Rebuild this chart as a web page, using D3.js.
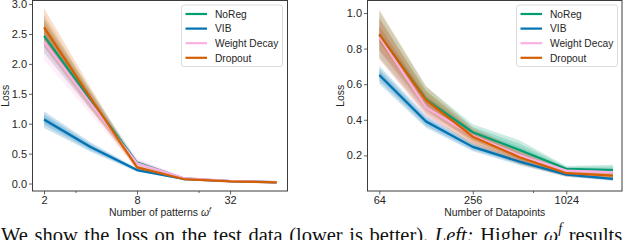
<!DOCTYPE html>
<html>
<head>
<meta charset="utf-8">
<script src="https://cdn.jsdelivr.net/npm/d3@7"></script>
<style>
  body { margin: 0; background: #fff; }
  svg { display: block; font-family: "Liberation Sans", Arial, sans-serif; }
</style>
</head>
<body>
<svg id="chart" width="640" height="240"></svg>
<script>
// ---- data ----
var seriesNames = ['NoReg', 'VIB', 'Weight Decay', 'Dropout'];
var seriesColors = ['#029e73', '#0173b2', '#fbafe4', '#d55e00'];

// left panel: number of patterns
var patterns = [2, 4, 8, 16, 32, 64];
var patternTicks = [2, 8, 32];
var patternMinor = [3.2, 20];
var lossTicksLeft = [0, 0.5, 1, 1.5, 2, 2.5, 3];
var noRegPat   = [2.47, 1.40, 0.35, 0.085, 0.04, 0.025];
var vibPat     = [1.07, 0.61, 0.225, 0.075, 0.04, 0.02];
var wdPat      = [2.37, 1.34, 0.34, 0.09, 0.045, 0.025];
var dropoutPat = [2.61, 1.43, 0.27, 0.075, 0.035, 0.02];
var noRegPatSd   = [0.28, 0.16, 0.04, 0.015, 0.01, 0.005];
var vibPatSd     = [0.14, 0.08, 0.03, 0.01, 0.006, 0.005];
var wdPatSd      = [0.30, 0.18, 0.09, 0.02, 0.01, 0.005];
var dropoutPatSd = [0.32, 0.18, 0.04, 0.012, 0.006, 0.005];

// right panel: number of datapoints
var datapoints = [64, 128, 256, 512, 1024, 2048];
var datapointTicks = [64, 256, 1024];
var datapointMinor = [625];
var lossTicksRight = [0.2, 0.4, 0.6, 0.8, 1.0];
var noRegDat   = [0.88, 0.515, 0.33, 0.23, 0.125, 0.118];
var vibDat     = [0.652, 0.39, 0.248, 0.165, 0.092, 0.068];
var wdDat      = [0.865, 0.47, 0.31, 0.20, 0.115, 0.105];
var dropoutDat = [0.88, 0.51, 0.305, 0.19, 0.10, 0.086];
var noRegDatSd   = [0.13, 0.07, 0.045, 0.055, 0.015, 0.03];
var vibDatSd     = [0.05, 0.035, 0.025, 0.02, 0.012, 0.012];
var wdDatSd      = [0.12, 0.06, 0.04, 0.03, 0.015, 0.02];
var dropoutDatSd = [0.14, 0.08, 0.05, 0.04, 0.02, 0.022];

var svg = d3.select('#chart');
var textColor = '#262626';
var spineColor = '#3c3c3c';

function drawPanel(cfg) {
  var x = d3.scaleLog().base(2).domain(cfg.xDomain).range(cfg.xRange);
  var y = d3.scaleLinear().domain(cfg.yDomain).range([cfg.bottom, cfg.top]);
  var g = svg.append('g');

  var clipId = 'clip' + cfg.id;
  g.append('clipPath').attr('id', clipId)
    .append('rect')
    .attr('x', cfg.left).attr('y', cfg.top)
    .attr('width', cfg.right - cfg.left).attr('height', cfg.bottom - cfg.top);

  var plot = g.append('g').attr('clip-path', 'url(#' + clipId + ')');

  // bands first (all below lines), a few nested layers for the soft edge
  var layers = [1, 0.66, 0.33];
  cfg.values.forEach(function(vals, si) {
    var sd = cfg.sds[si];
    layers.forEach(function(k) {
      var area = d3.area()
        .x(function(d, i) { return x(cfg.xs[i]); })
        .y0(function(d, i) { return y(d - k * sd[i]); })
        .y1(function(d, i) { return y(d + k * sd[i]); });
      plot.append('path')
        .datum(vals)
        .attr('d', area)
        .attr('fill', seriesColors[si])
        .attr('fill-opacity', 0.2);
    });
  });

  var line = d3.line()
    .x(function(d, i) { return x(cfg.xs[i]); })
    .y(function(d) { return y(d); });
  cfg.values.forEach(function(vals, si) {
    plot.append('path')
      .datum(vals)
      .attr('d', line)
      .attr('fill', 'none')
      .attr('stroke', seriesColors[si])
      .attr('stroke-width', 2.2)
      .attr('stroke-linejoin', 'round');
  });

  // axes
  var xAxis = g.append('g')
    .attr('transform', 'translate(0,' + cfg.bottom + ')')
    .call(d3.axisBottom(x).tickValues(cfg.xTicks).tickFormat(d3.format('d'))
      .tickSize(3.5).tickPadding(2));
  var xMinor = g.append('g')
    .attr('transform', 'translate(0,' + cfg.bottom + ')')
    .call(d3.axisBottom(x).tickValues(cfg.xMinor).tickFormat('').tickSize(2));
  var yAxis = g.append('g')
    .attr('transform', 'translate(' + cfg.left + ',0)')
    .call(d3.axisLeft(y).tickValues(cfg.yTicks).tickFormat(d3.format('.1f'))
      .tickSize(3.5).tickPadding(2));

  [xAxis, xMinor, yAxis].forEach(function(a) {
    a.select('.domain').remove();
    a.selectAll('line').attr('stroke', spineColor).attr('stroke-width', 0.8);
    a.selectAll('text').attr('fill', textColor).style('font-size', '11px')
      .style('font-family', '"Liberation Sans", Arial, sans-serif');
  });

  // frame
  g.append('rect')
    .attr('x', cfg.left).attr('y', cfg.top)
    .attr('width', cfg.right - cfg.left).attr('height', cfg.bottom - cfg.top)
    .attr('fill', 'none').attr('stroke', spineColor).attr('stroke-width', 1);

  // axis labels
  var xl = g.append('text')
    .attr('x', (cfg.left + cfg.right) / 2).attr('y', 216)
    .attr('text-anchor', 'middle')
    .attr('fill', textColor).style('font-size', '10.4px')
    .text(cfg.xLabel);
  if (cfg.xLabelSup) {
    xl.append('tspan').style('font-style', 'italic').text(' \u03C9');
    xl.append('tspan').attr('dy', -4).style('font-size', '7px')
      .style('font-style', 'italic').text(cfg.xLabelSup);
  }
  g.append('text')
    .attr('transform', 'translate(' + cfg.yLabelX + ',' + ((cfg.top + cfg.bottom) / 2) + ') rotate(-90)')
    .attr('text-anchor', 'middle')
    .attr('fill', textColor).style('font-size', '10.4px')
    .text('Loss');

  // legend
  var lg = g.append('g').attr('transform', 'translate(' + cfg.legendX + ',5)');
  lg.append('rect')
    .attr('width', 101).attr('height', 61.5)
    .attr('rx', 2.5)
    .attr('fill', '#fff').attr('fill-opacity', 0.85)
    .attr('stroke', '#d4d4d4').attr('stroke-width', 0.8);
  seriesNames.forEach(function(name, i) {
    var yy = 9 + i * 14.6;
    lg.append('line')
      .attr('x1', 4).attr('x2', 25.5).attr('y1', yy).attr('y2', yy)
      .attr('stroke', seriesColors[i]).attr('stroke-width', 2.2);
    lg.append('text')
      .attr('x', 33.5).attr('y', yy + 3.7)
      .attr('fill', textColor).style('font-size', '10.2px')
      .text(name);
  });
}

drawPanel({
  id: 'L',
  xs: patterns, values: [noRegPat, vibPat, wdPat, dropoutPat],
  sds: [noRegPatSd, vibPatSd, wdPatSd, dropoutPatSd],
  xDomain: [2, 64], xRange: [44, 276.6],
  yDomain: [-0.125, 3.06],
  left: 32.5, right: 287.5, top: 0.5, bottom: 191,
  xTicks: patternTicks, xMinor: patternMinor, yTicks: lossTicksLeft,
  xLabel: 'Number of patterns', xLabelSup: 'f',
  yLabelX: 9, legendX: 181.5
});

drawPanel({
  id: 'R',
  xs: datapoints, values: [noRegDat, vibDat, wdDat, dropoutDat],
  sds: [noRegDatSd, vibDatSd, wdDatSd, dropoutDatSd],
  xDomain: [64, 2048], xRange: [379.3, 613],
  yDomain: [0, 1.07],
  left: 367.5, right: 622, top: 0.5, bottom: 191,
  xTicks: datapointTicks, xMinor: datapointMinor, yTicks: lossTicksRight,
  xLabel: 'Number of Datapoints',
  yLabelX: 344, legendX: 516.5
});

// caption fragment cut off at the bottom of the image
var cap = svg.append('text')
  .attr('x', 1).attr('y', 241.5)
  .attr('fill', '#111')
  .style('font-family', '"Liberation Serif", "Times New Roman", serif')
  .style('font-size', '20.5px')
  .style('word-spacing', '1.5px');
cap.append('tspan').text('We show the loss on the test data (lower is better). ');
cap.append('tspan').style('font-style', 'italic').text('Left:');
cap.append('tspan').text(' Higher ');
cap.append('tspan').style('font-style', 'italic').text('\u03C9');
cap.append('tspan').attr('dy', -9).style('font-size', '14px').style('font-style', 'italic').text('f');
cap.append('tspan').attr('dy', 9).text(' results');
</script>
</body>
</html>
